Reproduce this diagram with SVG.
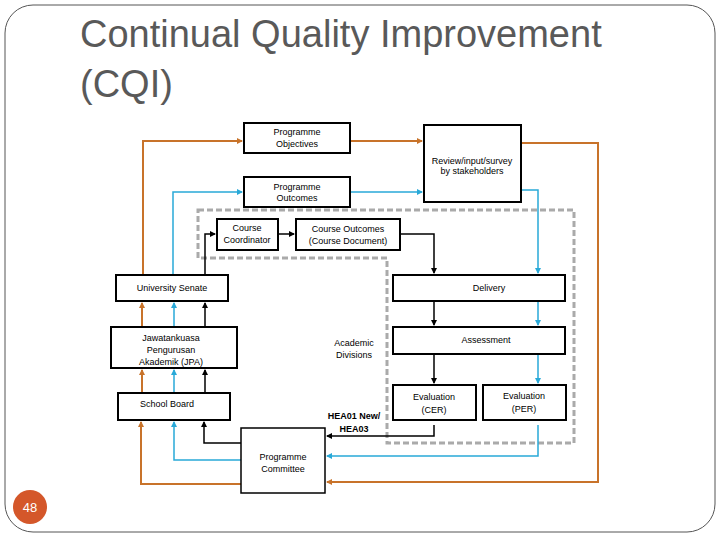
<svg xmlns="http://www.w3.org/2000/svg" width="720" height="540" viewBox="0 0 720 540">
<defs>
<style>
.b{fill:#fff;stroke:#000;stroke-width:2}
.t{font-family:"Liberation Sans",Arial,sans-serif;font-size:9px;fill:#000;text-anchor:middle}
.o{fill:none;stroke:#c8732a;stroke-width:2}
.c{fill:none;stroke:#29a9d8;stroke-width:1.5}
.k{fill:none;stroke:#000;stroke-width:1.5}
</style>
<marker id="ao" markerWidth="6" markerHeight="6" refX="5" refY="3" orient="auto" markerUnits="userSpaceOnUse"><path d="M0,0L6,3L0,6z" fill="#c8732a"/></marker>
<marker id="ac" markerWidth="6" markerHeight="6" refX="5" refY="3" orient="auto" markerUnits="userSpaceOnUse"><path d="M0,0L6,3L0,6z" fill="#29a9d8"/></marker>
<marker id="ak" markerWidth="6" markerHeight="6" refX="5" refY="3" orient="auto" markerUnits="userSpaceOnUse"><path d="M0,0L6,3L0,6z" fill="#000"/></marker>
</defs>
<rect width="720" height="540" fill="#fff"/>
<rect x="5" y="5" width="710" height="527" rx="28" fill="none" stroke="#555" stroke-width="1"/>
<text x="80" y="47" font-family="Liberation Sans,Arial,sans-serif" font-size="38" fill="#595959">Continual Quality Improvement</text>
<text x="80" y="97" font-family="Liberation Sans,Arial,sans-serif" font-size="38" fill="#595959">(CQI)</text>
<path d="M198,210H574V443H387V258H198Z" fill="none" stroke="#aaa" stroke-width="3" stroke-dasharray="6,3"/>
<g id="connectors">
<path class="o" d="M143,275V141H242" marker-end="url(#ao)"/>
<path class="o" d="M350,141H422" marker-end="url(#ao)"/>
<path class="o" d="M521,143H598V482H327" marker-end="url(#ao)"/>
<path class="o" d="M241,484H141V422" marker-end="url(#ao)"/>
<path class="o" d="M142,393V370" marker-end="url(#ao)"/>
<path class="o" d="M142,327V303" marker-end="url(#ao)"/>
<path class="c" d="M173,275V192H242" marker-end="url(#ac)"/>
<path class="c" d="M350,192H422" marker-end="url(#ac)"/>
<path class="c" d="M521,190H538V273" marker-end="url(#ac)"/>
<path class="c" d="M538,301V325" marker-end="url(#ac)"/>
<path class="c" d="M538,354V383" marker-end="url(#ac)"/>
<path class="c" d="M538,425V456H327" stroke-width="3" marker-end="url(#ac)"/>
<path class="c" d="M241,460H174V422" marker-end="url(#ac)"/>
<path class="c" d="M174,393V370" marker-end="url(#ac)"/>
<path class="c" d="M174,327V303" marker-end="url(#ac)"/>
<path class="k" d="M205,275V234H215" marker-end="url(#ak)"/>
<path class="k" d="M278,234H294" marker-end="url(#ak)"/>
<path class="k" d="M400,234H434V273" marker-end="url(#ak)"/>
<path class="k" d="M434,301V325" marker-end="url(#ak)"/>
<path class="k" d="M434,354V383" marker-end="url(#ak)"/>
<path class="k" d="M434,425V436H327" marker-end="url(#ak)"/>
<path class="k" d="M241,443H204V422" stroke-width="2" marker-end="url(#ak)"/>
<path class="k" d="M205,393V370" marker-end="url(#ak)"/>
<path class="k" d="M205,327V303" marker-end="url(#ak)"/>
</g>
<g id="po"><rect class="b" x="244" y="123" width="106" height="30"/><text class="t" x="297" y="135">Programme</text><text class="t" x="297" y="147">Objectives</text></g>
<g id="review"><rect class="b" x="424" y="125" width="97" height="77" stroke-width="2.5"/><text class="t" x="472" y="164">Review/input/survey</text><text class="t" x="472" y="174">by stakeholders</text></g>
<g id="pout"><rect class="b" x="244" y="177" width="106" height="30"/><text class="t" x="297" y="190">Programme</text><text class="t" x="297" y="201">Outcomes</text></g>
<g id="cc"><rect class="b" x="217" y="219" width="61" height="31"/><text class="t" x="247" y="231">Course</text><text class="t" x="247" y="243">Coordinator</text></g>
<g id="co"><rect class="b" x="296" y="219" width="104" height="31"/><text class="t" x="348" y="232" font-size="8">Course Outcomes</text><text class="t" x="348" y="244" font-size="8">(Course Document)</text></g>
<g id="senate"><rect class="b" x="116" y="275" width="112" height="26"/><text class="t" x="172" y="291">University  Senate</text></g>
<g id="delivery"><rect class="b" x="393" y="275" width="172" height="26"/><text class="t" x="489" y="291">Delivery</text></g>
<g id="jpa"><rect class="b" x="111" y="327" width="126" height="41"/><text class="t" x="171" y="341">Jawatankuasa</text><text class="t" x="171" y="353">Pengurusan</text><text class="t" x="171" y="365">Akademik (JPA)</text></g>
<g id="ad"><text class="t" x="354" y="346">Academic</text><text class="t" x="354" y="358">Divisions</text></g>
<g id="assess"><rect class="b" x="393" y="327" width="172" height="27"/><text class="t" x="486" y="343">Assessment</text></g>
<g id="sb"><rect class="b" x="118" y="393" width="112" height="27"/><text class="t" x="167" y="407">School  Board</text></g>
<g id="hea"><text class="t" x="354" y="419" font-weight="bold" font-size="8.5">HEA01 New/</text><text class="t" x="354" y="432" font-weight="bold" font-size="8.5">HEA03</text></g>
<g id="cer"><rect class="b" x="393" y="385" width="83" height="35"/><text class="t" x="434" y="400" font-size="8.5">Evaluation</text><text class="t" x="434" y="413" font-size="8.5">(CER)</text></g>
<g id="per"><rect class="b" x="483" y="385" width="83" height="35"/><text class="t" x="524" y="399" font-size="8.5">Evaluation</text><text class="t" x="524" y="412" font-size="8.5">(PER)</text></g>
<g id="pc"><rect x="241" y="428" width="84" height="65" fill="#fff" stroke="#000" stroke-width="1.5"/><text class="t" x="283" y="460">Programme</text><text class="t" x="283" y="472">Committee</text></g>
<circle cx="30" cy="507" r="17" fill="#d4572a"/>
<text x="30" y="512" text-anchor="middle" font-family="Liberation Sans,Arial,sans-serif" font-size="13" fill="#fff">48</text>
</svg>
